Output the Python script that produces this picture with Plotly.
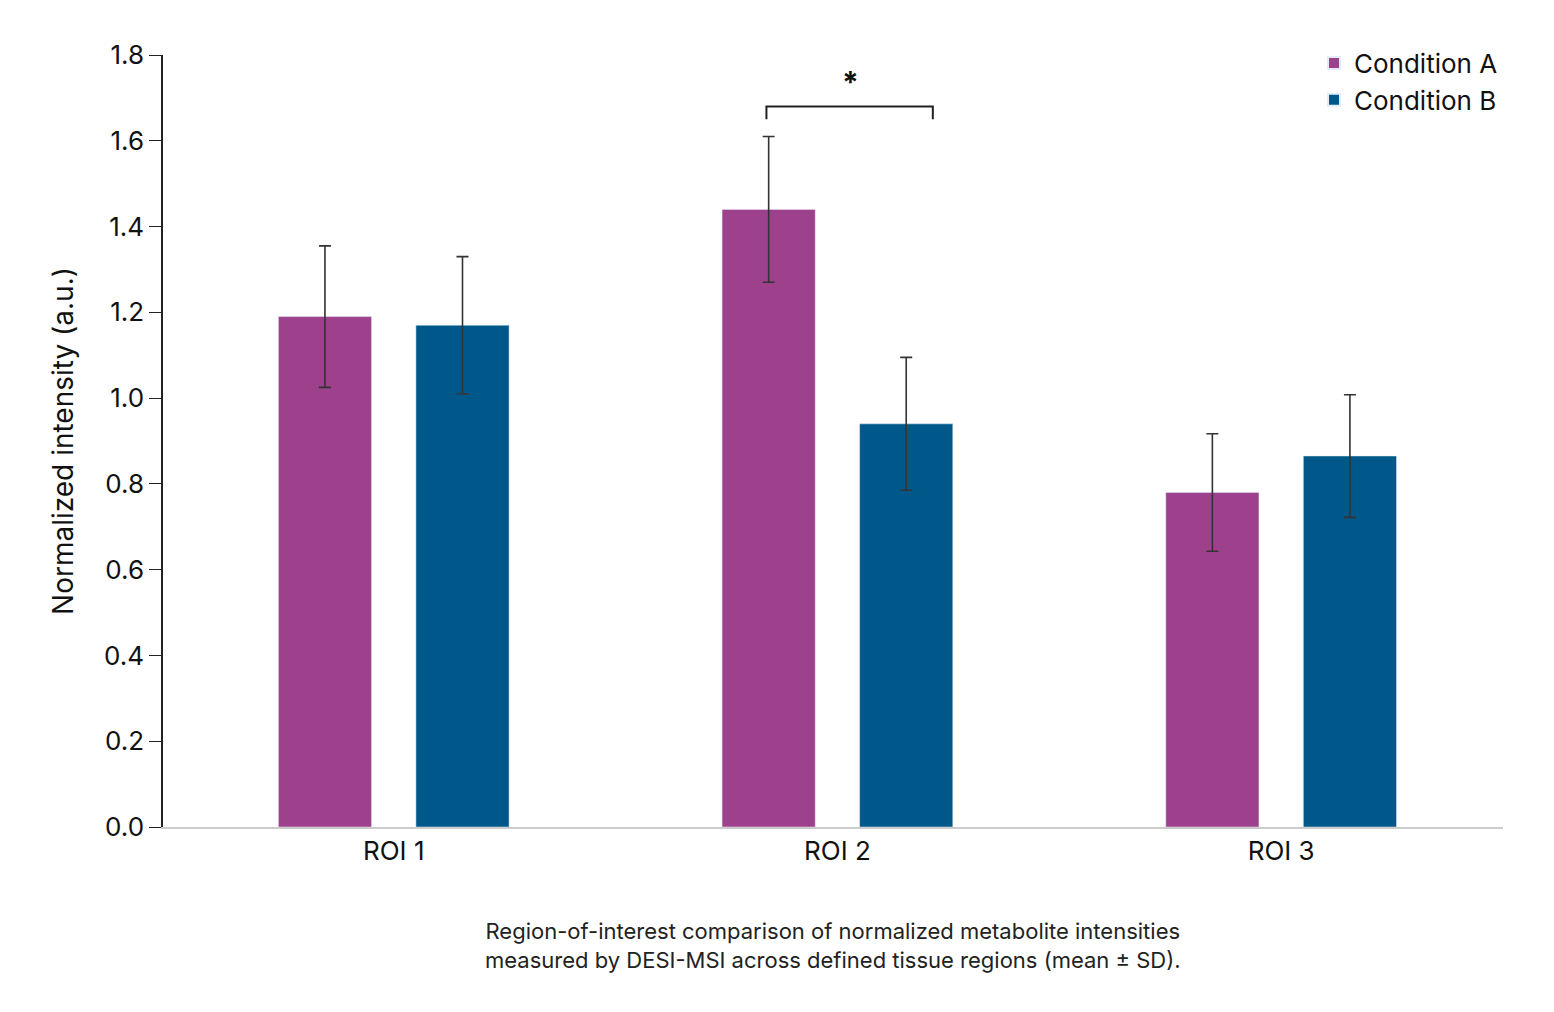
import plotly.graph_objects as go

categories = ["ROI 1", "ROI 2", "ROI 3"]
cond_a = [1.19, 1.44, 0.78]
cond_a_sd = [0.165, 0.17, 0.137]
cond_b = [1.17, 0.94, 0.865]
cond_b_sd = [0.16, 0.155, 0.143]
yticks = [0.0, 0.2, 0.4, 0.6, 0.8, 1.0, 1.2, 1.4, 1.6, 1.8]

col_a = "#9E418C"
col_b = "#00588A"
font = "Inter, Roboto, sans-serif"

fig = go.Figure()
err = dict(type="data", thickness=1.6, width=6, color="#333333")
fig.add_trace(go.Bar(x=categories, y=cond_a, name="Condition A", marker_color=col_a,
                     width=0.21, offset=-0.26, error_y=dict(array=cond_a_sd, **err)))
fig.add_trace(go.Bar(x=categories, y=cond_b, name="Condition B", marker_color=col_b,
                     width=0.21, offset=0.05, error_y=dict(array=cond_b_sd, **err)))

# significance bracket over ROI 2
fig.add_shape(type="path", xref="x", yref="y",
              path="M 0.84,1.65 L 0.84,1.68 L 1.215,1.68 L 1.215,1.65",
              line=dict(color="#222222", width=2))
fig.add_annotation(x=1.03, y=1.69, xref="x", yref="y", text="<b>*</b>", showarrow=False,
                   yanchor="bottom", font=dict(size=30, color="#111111", family=font))

fig.add_annotation(x=0.5, y=-0.115, xref="paper", yref="paper",
                   text="Region-of-interest comparison of normalized metabolite intensities<br>measured by DESI-MSI across defined tissue regions (mean ± SD).",
                   showarrow=False, yanchor="top", align="center",
                   font=dict(size=22, color="#222222", family=font))

fig.update_layout(
    width=1554, height=1012, plot_bgcolor="white", paper_bgcolor="white",
    margin=dict(l=155, r=59, t=47, b=193),
    font=dict(family=font, size=26, color="#111111"),
    barmode="group",
    legend=dict(x=1.0, y=1.02, xanchor="right", yanchor="top", font=dict(size=26),
                itemsizing="constant", tracegroupgap=10, bgcolor="rgba(0,0,0,0)"),
    xaxis=dict(range=[-0.52, 2.5], showline=True, linecolor="#cccccc", linewidth=1.5,
               ticks="", tickfont=dict(size=26), showgrid=False),
    yaxis=dict(range=[0, 1.8], tickvals=yticks, ticktext=[f"{v:.1f}" for v in yticks],
               showline=True, linecolor="#222222", linewidth=1.5, ticks="outside",
               ticklen=12, tickcolor="#222222", showgrid=False, zeroline=False,
               title=dict(text="Normalized intensity (a.u.)", font=dict(size=28), standoff=22),
               tickfont=dict(size=26)),
)
fig.write_html("out.html")
